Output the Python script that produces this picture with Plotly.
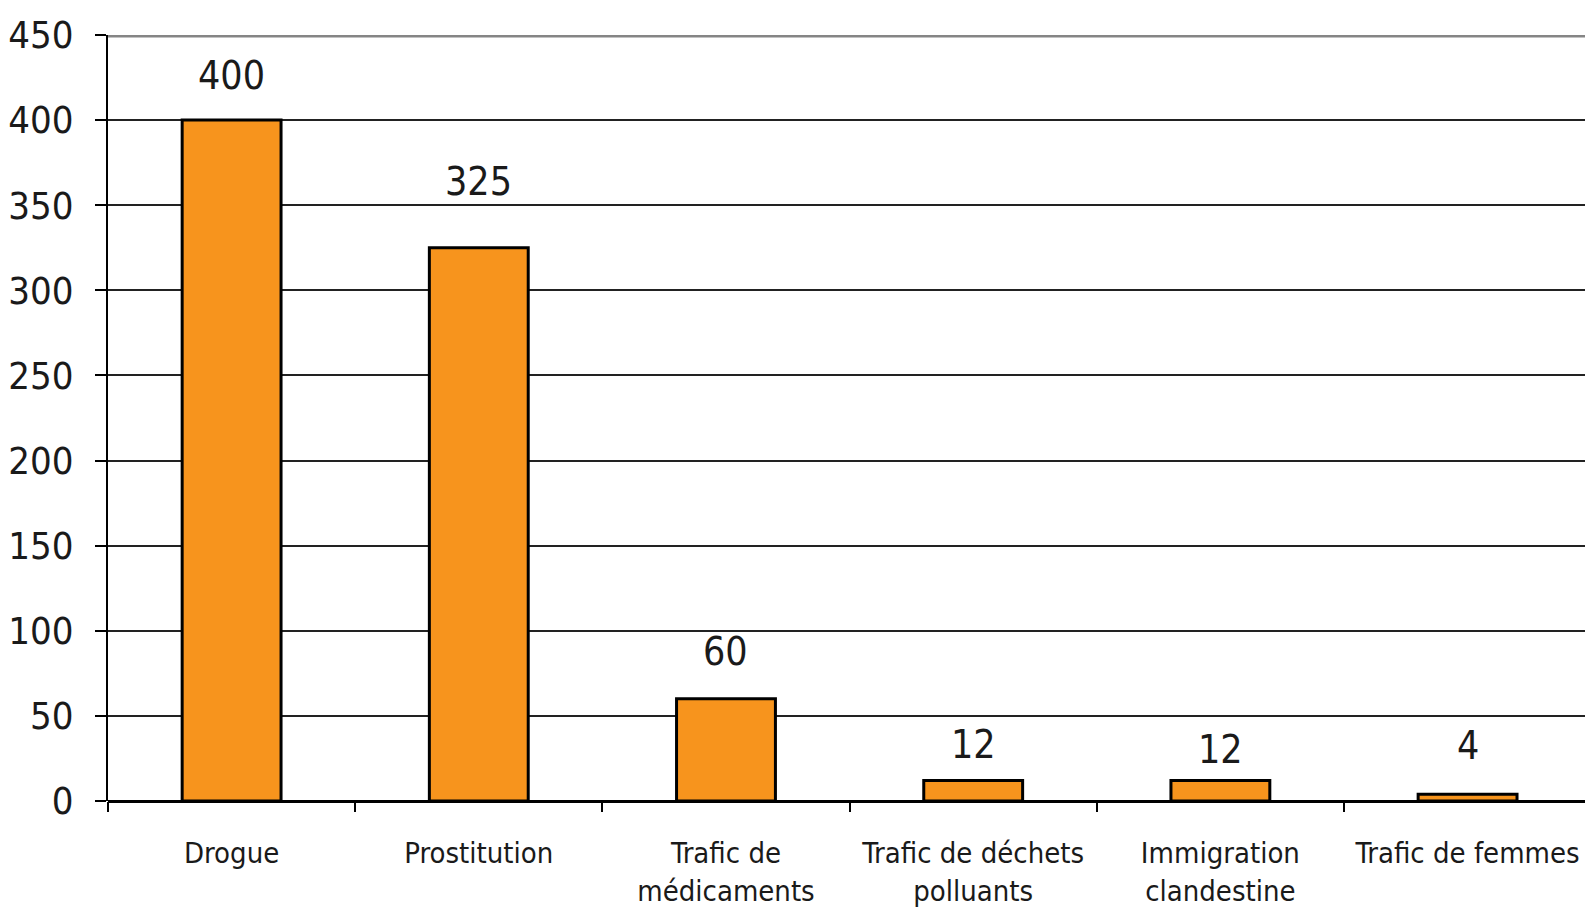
import plotly.graph_objects as go

categories = ["Drogue", "Prostitution", "Trafic de<br>médicaments",
              "Trafic de déchets<br>polluants", "Immigration<br>clandestine",
              "Trafic de femmes"]
values = [400, 325, 60, 12, 12, 4]
value_labels = ["400", "325", "60", "12", "12", "4"]
y_ticks = [0, 50, 100, 150, 200, 250, 300, 350, 400, 450]

# label vertical offsets (px above bar top), style only
label_shift = [45, 66, 47, 36, 31, 49]

FONT = "DejaVu Sans Condensed, Liberation Sans Narrow, Arial Narrow, sans-serif"

fig = go.Figure()
fig.add_trace(go.Bar(
    x=categories, y=values, width=0.4,
    marker=dict(color="#F7941D", line=dict(color="#000000", width=3)),
    hoverinfo="skip",
))

for i, (c, v, lab) in enumerate(zip(categories, values, value_labels)):
    fig.add_annotation(x=c, y=v, text=lab, showarrow=False, yshift=label_shift[i],
                       yanchor="middle", xanchor="center",
                       font=dict(family=FONT, size=39, color="#1a1a1a"))

# gray top border at 450
fig.add_shape(type="line", xref="paper", x0=0, x1=1, yref="y", y0=450, y1=450,
              line=dict(color="#858585", width=5), layer="above")

fig.update_layout(
    width=1585, height=916,
    margin=dict(l=108, r=0, t=35, b=115),
    plot_bgcolor="white", paper_bgcolor="white",
    showlegend=False,
)
fig.update_xaxes(
    type="category", range=[-0.5, 5.475], automargin=False, tickangle=0,
    tickson="boundaries", ticks="outside", ticklen=10, tickwidth=2, tickcolor="#000",
    showgrid=False, showline=False, zeroline=False,
    tickfont=dict(family=FONT, size=29, color="#1a1a1a"),
    ticklabelstandoff=32, ticklabeloverflow="allow",
)
fig.update_yaxes(
    range=[0, 450], tickvals=y_ticks, ticktext=[str(t) for t in y_ticks],
    automargin=False,
    ticks="outside", ticklen=11, tickwidth=2, tickcolor="#000",
    showline=True, linecolor="#000", linewidth=2,
    showgrid=True, gridcolor="#222", gridwidth=2,
    zeroline=True, zerolinecolor="#000", zerolinewidth=3,
    tickfont=dict(family=FONT, size=38, color="#1a1a1a"),
    ticklabelstandoff=14,
)

fig.write_html("out.html")
